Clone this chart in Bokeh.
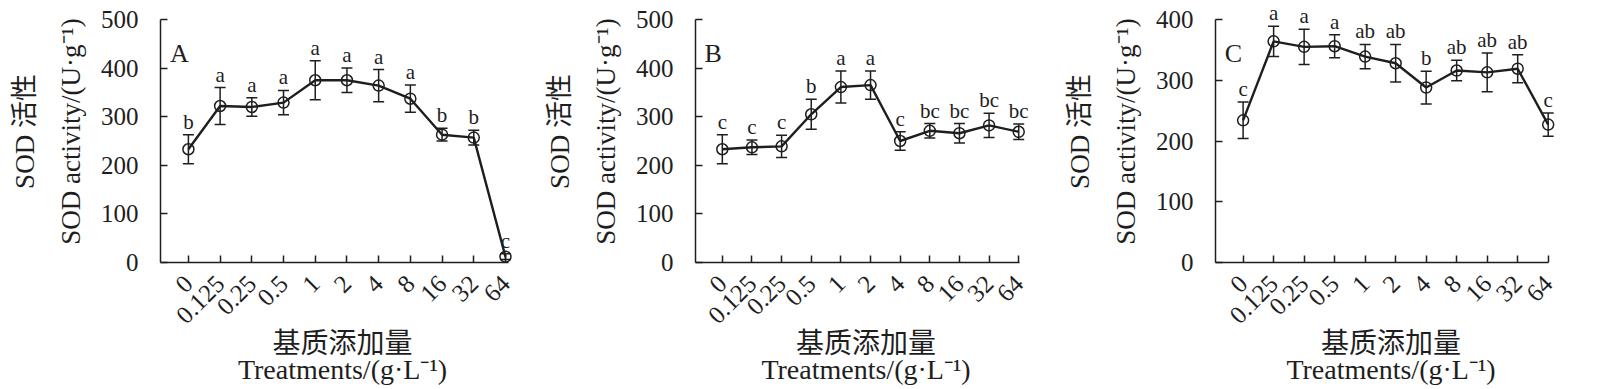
import math
from bokeh.plotting import figure
from bokeh.models import (ColumnDataSource, Whisker, TeeHead, LabelSet, Label,
                          Title, FixedTicker, Range1d)
from bokeh.layouts import row
from bokeh.embed import file_html
from bokeh.resources import INLINE

treatments = ["0", "0.125", "0.25", "0.5", "1", "2", "4", "8", "16", "32", "64"]

a_mean = [233, 322, 320, 329, 375, 375, 364, 337, 263, 257, 12]
a_err = [30, 38, 19, 25, 40, 25, 33, 28, 13, 15, 6]
a_letters = ["b", "a", "a", "a", "a", "a", "a", "a", "b", "b", "c"]

b_mean = [233, 237, 239, 305, 361, 365, 250, 271, 266, 282, 269]
b_err = [30, 15, 23, 31, 33, 29, 19, 15, 20, 25, 16]
b_letters = ["c", "c", "c", "b", "a", "a", "c", "bc", "bc", "bc", "bc"]

c_mean = [234, 364, 355, 356, 339, 328, 288, 316, 313, 319, 227]
c_err = [30, 25, 29, 19, 20, 31, 27, 17, 32, 23, 19]
c_letters = ["c", "a", "a", "a", "ab", "ab", "b", "ab", "ab", "ab", "c"]

y_ticks_ab = [0, 100, 200, 300, 400, 500]
y_ticks_c = [0, 100, 200, 300, 400]

INK = "#1e1e1e"
SERIF = "Liberation Serif, Noto Sans CJK SC"


def panel(tag, mean, err, letters, yticks, xr, width, bl, br):
    x = list(range(len(treatments)))
    src = ColumnDataSource(dict(
        x=x, y=mean,
        lo=[m - e for m, e in zip(mean, err)],
        hi=[m + e for m, e in zip(mean, err)],
        lab=letters))
    ymax = yticks[-1]
    p = figure(width=width, height=389, output_backend="svg", toolbar_location=None,
               x_range=Range1d(xr[0], 10.6), y_range=Range1d(0, ymax * 1.0782),
               min_border_left=bl, min_border_right=br, min_border_top=0,
               min_border_bottom=127)
    p.outline_line_color = None
    p.grid.visible = False
    p.background_fill_color = "white"
    p.border_fill_color = "white"

    for ax in (p.xaxis[0], p.yaxis[0]):
        ax.axis_line_color = INK
        ax.axis_line_width = 1.5
        ax.major_tick_line_color = INK
        ax.major_tick_line_width = 1.5
        ax.major_tick_in = 7
        ax.major_tick_out = 0
        ax.minor_tick_line_color = None
        ax.major_label_text_font = SERIF
        ax.major_label_text_font_size = "25px"
        ax.major_label_text_color = INK

    p.xaxis.ticker = FixedTicker(ticks=x)
    p.xaxis.bounds = (xr[0], xr[1])
    p.xaxis.major_label_overrides = {i: t for i, t in enumerate(treatments)}
    p.xaxis.major_label_orientation = math.pi / 4
    p.xaxis.major_label_standoff = 17
    p.yaxis.ticker = FixedTicker(ticks=yticks)
    p.yaxis.bounds = (0, ymax)
    p.yaxis.major_label_standoff = 22

    p.line("x", "y", source=src, line_color=INK, line_width=2.4)
    p.add_layout(Whisker(base="x", lower="lo", upper="hi", source=src,
                         line_color=INK, line_width=1.5,
                         lower_head=TeeHead(size=11, line_color=INK, line_width=1.5),
                         upper_head=TeeHead(size=11, line_color=INK, line_width=1.5)))
    p.scatter("x", "y", source=src, marker="circle", size=11, fill_color=None,
              line_color=INK, line_width=1.5)
    p.add_layout(LabelSet(x="x", y="hi", text="lab", source=src, text_align="center",
                          text_baseline="alphabetic", y_offset=6,
                          text_font=SERIF, text_font_size="21px", text_color=INK))
    p.add_layout(Label(x=xr[0] + 0.3, y=ymax * 0.86, text=tag, text_font=SERIF,
                       text_font_size="26px", text_color=INK, text_baseline="alphabetic"))

    p.add_layout(Title(text="SOD activity/(U·g⁻¹)", align="center", text_font=SERIF,
                       text_font_size="27px", text_font_style="normal",
                       text_color=INK, standoff=24), "left")
    p.add_layout(Title(text="SOD 活性", align="center", text_font=SERIF,
                       text_font_size="27px", text_font_style="normal",
                       text_color=INK, standoff=4), "left")
    p.add_layout(Title(text="基质添加量", align="center", text_font=SERIF,
                       text_font_size="28px", text_font_style="normal",
                       text_color=INK, standoff=-18), "below")
    p.add_layout(Title(text="Treatments/(g·L⁻¹)", align="center", text_font=SERIF,
                       text_font_size="28px", text_font_style="normal",
                       text_color=INK, standoff=5), "below")
    return p


pa = panel("A", a_mean, a_err, a_letters, y_ticks_ab, (-0.88, 10.1), 540, 160, 16)
pb = panel("B", b_mean, b_err, b_letters, y_ticks_ab, (-0.905, 10.04), 520, 144, 24)
pc = panel("C", c_mean, c_err, c_letters, y_ticks_c, (-0.905, 10.02), 540, 154, 34)

layout = row(pa, pb, pc, spacing=0)
open("out.html", "w").write(file_html(layout, INLINE))
